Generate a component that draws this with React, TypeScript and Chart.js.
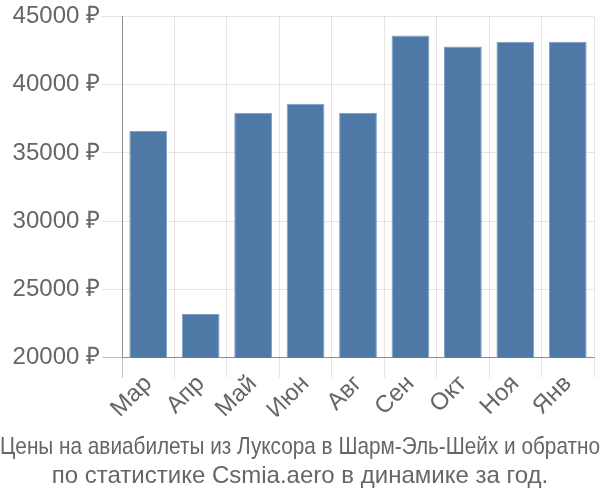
import React, { useEffect, useRef } from "react";
import { Chart, registerables } from "chart.js";

Chart.register(...registerables);

const categories = ["Мар", "Апр", "Май", "Июн", "Авг", "Сен", "Окт", "Ноя", "Янв"];
const prices = [36600, 23200, 37950, 38600, 37950, 43600, 42800, 43150, 43150];
const yMin = 20000;
const yMax = 45000;
const yStep = 5000;
const currency = "₽";
const titleLines = [
  "Цены на авиабилеты из Луксора в Шарм-Эль-Шейх и обратно",
  "по статистике Csmia.aero в динамике за год.",
];

const FONT = "'Liberation Sans', Arial, sans-serif";
const zeroColor = "rgba(0,0,0,0.25)";
const gridColor = "rgba(0,0,0,0.1)";

export default function App() {
  const ref = useRef<HTMLCanvasElement | null>(null);
  useEffect(() => {
    if (!ref.current) return;
    const chart = new Chart(ref.current, {
      type: "bar",
      data: {
        labels: categories,
        datasets: [
          {
            data: prices,
            backgroundColor: "#4e79a7",
            borderColor: "#7f9fc4",
            borderWidth: 1,
            barPercentage: 0.9,
            categoryPercentage: 0.8,
          },
        ],
      },
      options: {
        animation: false,
        responsive: true,
        maintainAspectRatio: false,
        layout: { padding: { left: 0, right: 0, top: 0, bottom: 0 } },
        plugins: {
          legend: { display: false },
          tooltip: { enabled: false },
          title: {
            display: true,
            position: "bottom",
            text: titleLines,
            color: "#666",
            font: { family: FONT, size: 24, weight: "normal", lineHeight: 1.2 },
            padding: { top: 17, bottom: 9 },
          },
        },
        scales: {
          x: {
            afterFit: (axis: any) => {
              axis.paddingRight = 6;
            },
            grid: {
              color: (c: any) => (c.index === 0 ? zeroColor : gridColor),
              tickLength: 20,
              offset: true,
            },
            border: { color: zeroColor },
            ticks: {
              color: "#666",
              font: { family: FONT, size: 24 },
              maxRotation: 45,
              minRotation: 45,
              padding: -8,
            },
          },
          y: {
            min: yMin,
            max: yMax,
            afterFit: (axis: any) => {
              axis.width = 122;
            },
            grid: {
              color: (c: any) => (c.index === 0 ? zeroColor : gridColor),
              tickLength: 20,
            },
            border: { color: zeroColor },
            ticks: {
              stepSize: yStep,
              color: "#666",
              font: { family: FONT, size: 24 },
              padding: 2,
              callback: (v: any) => `${v} ${currency}`,
            },
          },
        },
      },
    });
    return () => chart.destroy();
  }, []);
  return (
    <div style={{ position: "absolute", left: 0, top: 0, width: 600, height: 500 }}>
      <canvas ref={ref} />
    </div>
  );
}
